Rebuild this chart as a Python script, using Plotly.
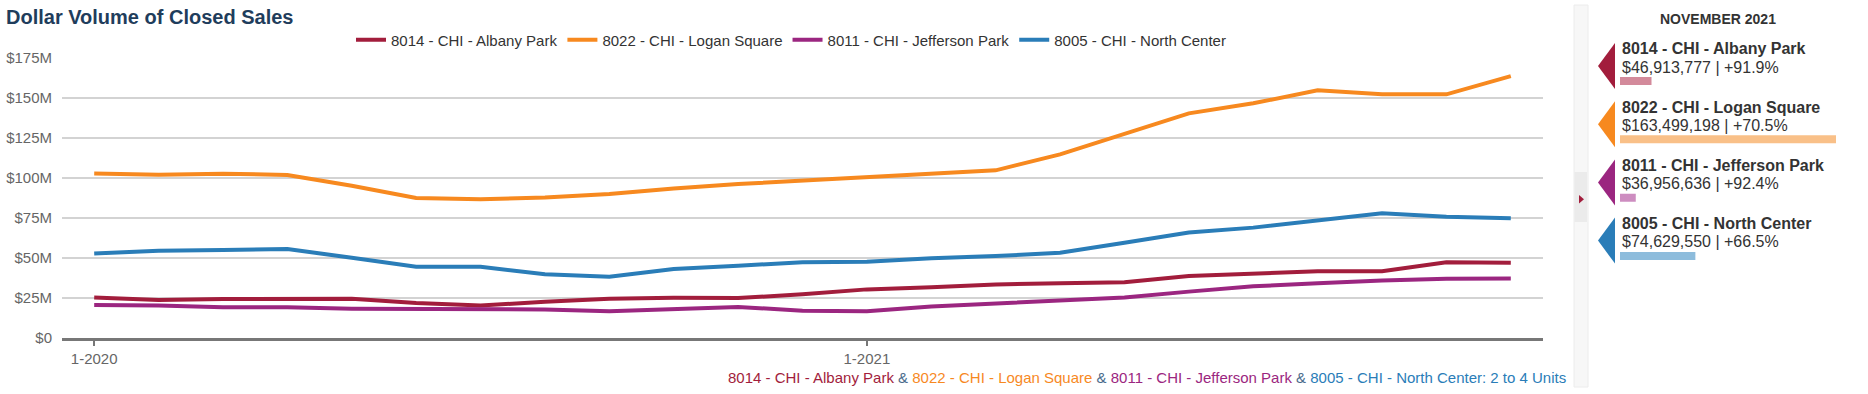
import plotly.graph_objects as go

W, H = 1868, 394

months = ["1-2020", "2-2020", "3-2020", "4-2020", "5-2020", "6-2020", "7-2020", "8-2020",
          "9-2020", "10-2020", "11-2020", "12-2020", "1-2021", "2-2021", "3-2021", "4-2021",
          "5-2021", "6-2021", "7-2021", "8-2021", "9-2021", "10-2021", "11-2021"]
x_tick_labels = ["1-2020", "1-2021"]

series_names = ["8014 - CHI - Albany Park", "8022 - CHI - Logan Square",
                "8011 - CHI - Jefferson Park", "8005 - CHI - North Center"]

# values in $ millions
albany_park = [25.2, 23.6, 24.2, 24.2, 24.4, 21.7, 20.1, 22.5, 24.4, 25.0, 24.8, 27.1,
               30.2, 31.5, 33.3, 34.0, 34.6, 38.5, 40.2, 41.5, 41.5, 47.1, 46.913777]
logan_square = [102.7, 101.9, 102.5, 101.7, 95.0, 87.3, 86.5, 87.7, 89.8, 93.3, 96.0, 98.1,
                100.6, 102.3, 104.6, 114.6, 127.3, 140.2, 146.5, 154.6, 152.1, 152.1, 163.499198]
jefferson_park = [20.4, 20.2, 19.0, 19.0, 18.1, 18.1, 18.0, 17.7, 16.5, 18.1, 19.2, 16.9,
                  16.5, 19.5, 21.5, 23.1, 25.2, 28.8, 32.1, 34.0, 35.8, 36.9, 36.956636]
north_center = [52.7, 54.4, 54.8, 55.4, 50.0, 44.4, 44.4, 39.6, 38.1, 42.9, 45.0, 47.1,
                47.5, 49.7, 51.0, 53.1, 59.4, 65.8, 68.8, 73.2, 77.8, 75.6, 74.62955]

y_tick_values = [0, 25, 50, 75, 100, 125, 150, 175]
y_tick_labels = ["$0", "$25M", "$50M", "$75M", "$100M", "$125M", "$150M", "$175M"]

panel_period = "NOVEMBER 2021"
panel_values = [46913777, 163499198, 36956636, 74629550]
panel_changes = ["+91.9%", "+70.5%", "+92.4%", "+66.5%"]
caption_suffix = ": 2 to 4 Units"

line_colors = ["#a21d3c", "#f7891f", "#9b2680", "#2a7db8"]
bar_colors = ["#d38a9b", "#f9c088", "#cd8dc0", "#8dbcdc"]
FONT = "Liberation Sans, Arial, sans-serif"


def px(x):
    return x / W


def py(y):
    return 1 - y / H


fig = go.Figure()
all_series = [albany_park, logan_square, jefferson_park, north_center]
for name, vals, col in zip(series_names, all_series, line_colors):
    fig.add_trace(go.Scatter(x=months, y=vals, name=name, mode="lines",
                             line=dict(color=col, width=4), xaxis="x", yaxis="y"))

# panel bars
fig.add_trace(go.Bar(x=[v / 1e6 for v in panel_values], y=list(range(len(panel_values))),
                     orientation="h", width=0.137, marker=dict(color=bar_colors, line=dict(width=0)),
                     showlegend=False, hoverinfo="skip", xaxis="x2", yaxis="y2"))

shapes = []
# side strip
shapes.append(dict(type="rect", xref="paper", yref="paper", x0=px(1574), x1=px(1588), y0=py(387), y1=py(5),
                   fillcolor="#f7f7f7", line=dict(color="#ececec", width=1), layer="below"))
shapes.append(dict(type="rect", xref="paper", yref="paper", x0=px(1574.5), x1=px(1587), y0=py(222), y1=py(172),
                   fillcolor="#ebebeb", line=dict(width=0), layer="below"))
shapes.append(dict(type="path", xref="paper", yref="paper",
                   path=f"M {px(1579)},{py(195)} L {px(1579)},{py(203.5)} L {px(1584)},{py(199.2)} Z",
                   fillcolor="#a21d3c", line=dict(width=0)))

annotations = []
annotations.append(dict(text=f"<b>{panel_period}</b>", xref="paper", yref="paper", x=px(1718), y=py(19),
                        xanchor="center", yanchor="middle", showarrow=False,
                        font=dict(family=FONT, size=14, color="#333333")))
for i, (name, val, chg, col) in enumerate(zip(series_names, panel_values, panel_changes, line_colors)):
    top = 43 + i * 58.2
    shapes.append(dict(type="path", xref="paper", yref="paper",
                       path=f"M {px(1598)},{py(top + 23)} L {px(1615)},{py(top)} L {px(1615)},{py(top + 46)} Z",
                       fillcolor=col, line=dict(width=0)))
    annotations.append(dict(text=f"<b>{name}</b>", xref="paper", yref="paper", x=px(1620), y=py(top + 6),
                            xanchor="left", yanchor="middle", showarrow=False,
                            font=dict(family=FONT, size=16, color="#333333")))
    annotations.append(dict(text=f"${val:,} | {chg}", xref="paper", yref="paper", x=px(1620), y=py(top + 24),
                            xanchor="left", yanchor="middle", showarrow=False,
                            font=dict(family=FONT, size=16, color="#333333")))

amp = "<span style='color:#4a6b8c'> & </span>"
parts = [f"<span style='color:{c}'>{n}</span>" for n, c in zip(series_names, line_colors)]
caption = amp.join(parts[:-1]) + amp + f"<span style='color:{line_colors[-1]}'>{series_names[-1]}{caption_suffix}</span>"
annotations.append(dict(text=caption, xref="paper", yref="paper", x=px(1568), y=py(377),
                        xanchor="right", yanchor="middle", showarrow=False,
                        font=dict(family=FONT, size=15)))

fig.update_layout(
    width=W, height=H, autosize=False,
    margin=dict(l=0, r=0, t=0, b=0, pad=0, autoexpand=False),
    paper_bgcolor="white", plot_bgcolor="white",
    font=dict(family=FONT, size=15, color="#333333"),
    title=dict(text="<b>Dollar Volume of Closed Sales</b>", x=px(6), xanchor="left", y=py(16.5),
               yanchor="middle", font=dict(family=FONT, size=20, color="#1f3d5c")),
    showlegend=True,
    legend=dict(orientation="h", x=px(791), xanchor="center", y=py(40), yanchor="middle",
                font=dict(family=FONT, size=15, color="#333333"), itemwidth=30,
                bgcolor="rgba(0,0,0,0)"),
    xaxis=dict(type="category", categoryorder="array", categoryarray=months,
               range=[-0.5, len(months) - 0.5], domain=[px(62), px(1543)],
               tickmode="array", tickvals=x_tick_labels, ticktext=x_tick_labels,
               ticks="outside", ticklen=6, tickwidth=2, tickcolor="#777777",
               showline=True, linecolor="#777777", linewidth=2.5, showgrid=False, zeroline=False,
               tickfont=dict(family=FONT, size=15, color="#666666"), anchor="y", fixedrange=True),
    yaxis=dict(range=[0, 175], domain=[py(337.7), py(57.7)],
               tickmode="array", tickvals=y_tick_values, ticktext=y_tick_labels,
               showgrid=True, gridcolor="#d3d3d3", gridwidth=1.5, zeroline=False, showline=False,
               ticklabelstandoff=9,
               tickfont=dict(family=FONT, size=15, color="#666666"), anchor="x", fixedrange=True),
    xaxis2=dict(domain=[px(1620), px(1836)], range=[27, panel_values[1] / 1e6], visible=False,
                anchor="y2", fixedrange=True),
    yaxis2=dict(domain=[py(285.2), py(51.8)], range=[3.5, -0.5], visible=False,
                anchor="x2", fixedrange=True),
    shapes=shapes, annotations=annotations,
    hovermode="x unified",
)

fig.write_html("out.html", config={"displayModeBar": False},
               post_script="document.body.style.margin='0';document.body.style.overflow='hidden';")
